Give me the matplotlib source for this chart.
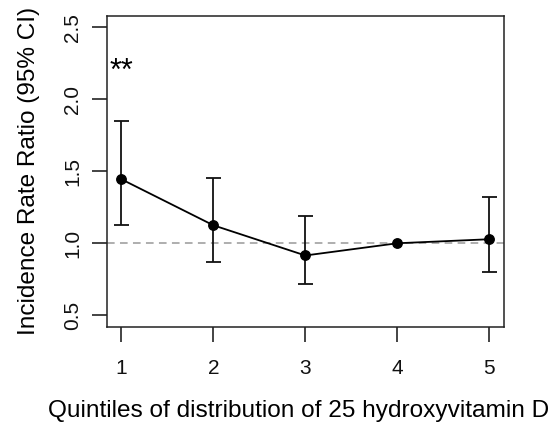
import matplotlib
matplotlib.use("Agg")
import matplotlib.pyplot as plt

quintiles = [1, 2, 3, 4, 5]
irr = [1.445, 1.125, 0.915, 1.0, 1.028]
ci_low = [1.125, 0.868, 0.72, 1.0, 0.80]
ci_high = [1.85, 1.455, 1.188, 1.0, 1.325]
y_ticks = [0.5, 1.0, 1.5, 2.0, 2.5]

plt.rcParams['font.family'] = ['Liberation Sans', 'DejaVu Sans']

fig = plt.figure(figsize=(5.54, 4.24), dpi=100)
ax = fig.add_axes([0.1926, 0.2295, 0.7171, 0.7328])

ax.axhline(1.0, color='#999999', linestyle=(0, (5, 3.5)), linewidth=1.1, zorder=1)

err_lo = [v - l for v, l in zip(irr, ci_low)]
err_hi = [h - v for v, h in zip(irr, ci_high)]
# no bar for the reference quintile
ax.errorbar([q for q, e in zip(quintiles, err_hi) if e > 0],
            [v for v, e in zip(irr, err_hi) if e > 0],
            yerr=[[a for a, e in zip(err_lo, err_hi) if e > 0],
                  [b for b in err_hi if b > 0]],
            fmt='none', ecolor='#111111', elinewidth=1.3, capsize=5.4,
            capthick=1.3, zorder=2)
ax.plot(quintiles, irr, color='black', linewidth=1.3, marker='o',
        markersize=6.8, zorder=3)

ax.text(1, 2.19, '**', fontsize=22, ha='center', va='center')

ax.set_xlim(0.84, 5.16)
ax.set_ylim(0.42, 2.58)
ax.set_xticks(quintiles)
ax.set_yticks(y_ticks)
ax.set_yticklabels([f'{t:.1f}' for t in y_ticks], rotation=90, va='center')
ax.tick_params(direction='out', length=10.8, width=1.1, labelsize=15,
               colors='#111111')
ax.tick_params(axis='x', pad=12.5)
ax.tick_params(axis='y', pad=6.7)
for s in ax.spines.values():
    s.set_linewidth(1.1)
    s.set_color('#222222')

ax.set_xlabel('Quintiles of distribution of 25 hydroxyvitamin D',
              fontsize=17.6, labelpad=17)
ax.xaxis.set_label_coords(0.483, -0.235)
ax.set_ylabel('Incidence Rate Ratio (95% CI)', fontsize=17.6, labelpad=17)

plt.savefig('out.png', dpi=100)
